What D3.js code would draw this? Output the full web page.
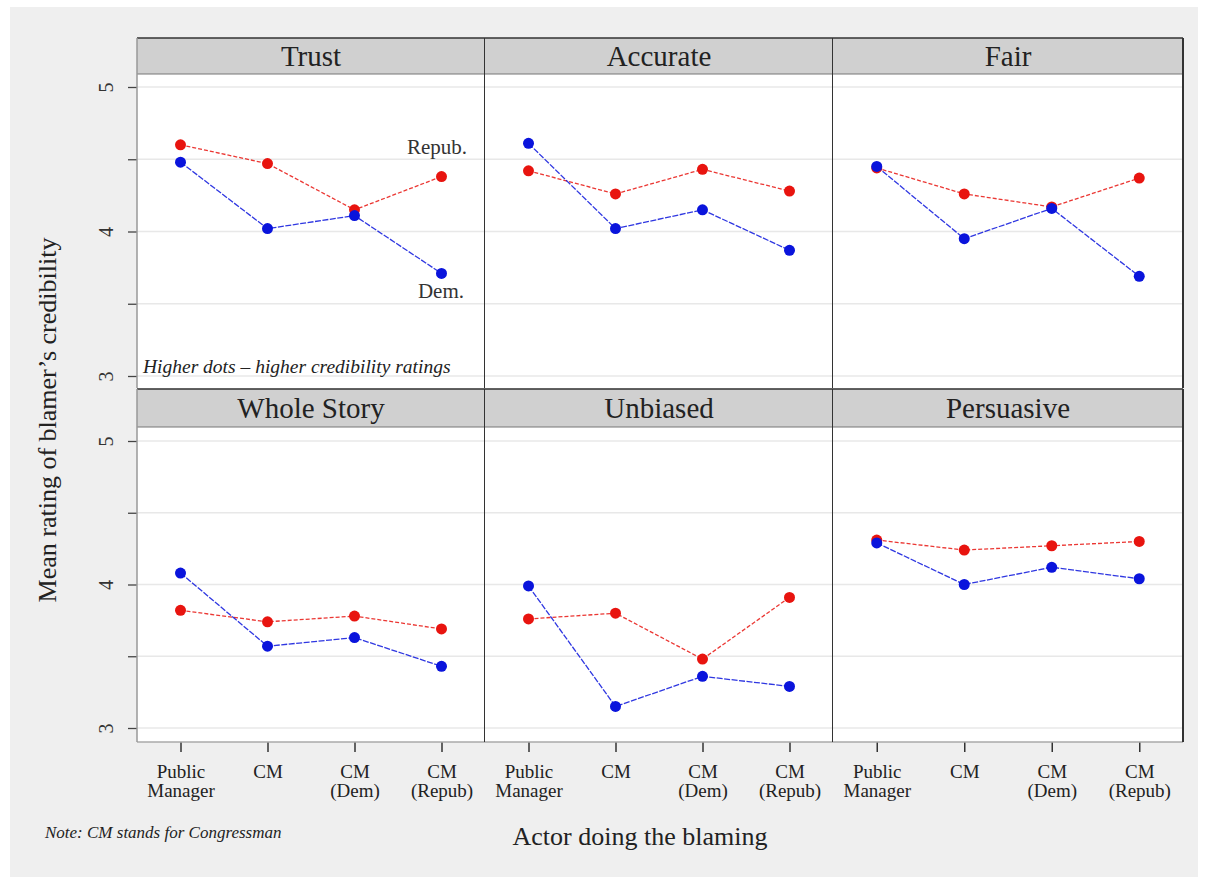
<!DOCTYPE html>
<html>
<head>
<meta charset="utf-8">
<script src="https://cdn.jsdelivr.net/npm/d3@7"></script>
<style>
  html, body { margin: 0; padding: 0; background: #ffffff; }
  svg { display: block; }
</style>
</head>
<body>
<svg id="chart" width="1208" height="877"></svg>
<script>
// ---- data ----
const categories = ["Public\nManager", "CM", "CM\n(Dem)", "CM\n(Repub)"];
const panels = ["Trust", "Accurate", "Fair", "Whole Story", "Unbiased", "Persuasive"];
const yTicks = [3, 3.5, 4, 4.5, 5];
const yTickLabels = ["3", "", "4", "", "5"];
// Republican respondents (red)
const repubTrust      = [4.60, 4.47, 4.15, 4.38];
const repubAccurate   = [4.42, 4.26, 4.43, 4.28];
const repubFair       = [4.44, 4.26, 4.17, 4.37];
const repubWhole      = [3.82, 3.74, 3.78, 3.69];
const repubUnbiased   = [3.76, 3.80, 3.48, 3.91];
const repubPersuasive = [4.31, 4.24, 4.27, 4.30];
// Democratic respondents (blue)
const demTrust        = [4.48, 4.02, 4.11, 3.71];
const demAccurate     = [4.61, 4.02, 4.15, 3.87];
const demFair         = [4.45, 3.95, 4.16, 3.69];
const demWhole        = [4.08, 3.57, 3.63, 3.43];
const demUnbiased     = [3.99, 3.15, 3.36, 3.29];
const demPersuasive   = [4.29, 4.00, 4.12, 4.04];

const repubSeries = [repubTrust, repubAccurate, repubFair, repubWhole, repubUnbiased, repubPersuasive];
const demSeries   = [demTrust, demAccurate, demFair, demWhole, demUnbiased, demPersuasive];

// ---- layout ----
const svg = d3.select("#chart");
const serif = "'Liberation Serif', 'DejaVu Serif', serif";
svg.append("rect").attr("x", 10).attr("y", 7).attr("width", 1188).attr("height", 870).attr("fill", "#efefef");

const colX = [137, 485, 833, 1183];
const rows = [
  { headTop: 38, headBot: 74, plotBot: 388, y: d3.scaleLinear().domain([3, 5]).range([376, 87]) },
  { headTop: 389, headBot: 427, plotBot: 742, y: d3.scaleLinear().domain([3, 5]).range([728, 441]) }
];
const RED = "#e8140f", BLUE = "#0a14dc";

panels.forEach((name, i) => {
  const r = rows[Math.floor(i / 3)];
  const c = i % 3;
  const x0 = colX[c], x1 = colX[c + 1];
  const g = svg.append("g");
  const x = d3.scalePoint().domain(d3.range(categories.length)).range([x0, x1]).padding(0.5);
  const y = r.y;

  // plot background
  g.append("rect").attr("x", x0).attr("y", r.headBot).attr("width", x1 - x0).attr("height", r.plotBot - r.headBot).attr("fill", "#ffffff");
  // gridlines
  g.selectAll("line.grid").data(yTicks).join("line")
    .attr("x1", x0).attr("x2", x1).attr("y1", d => y(d)).attr("y2", d => y(d))
    .attr("stroke", "#e8e8e8").attr("stroke-width", 1.5);
  // header strip
  g.append("rect").attr("x", x0).attr("y", r.headTop).attr("width", x1 - x0).attr("height", r.headBot - r.headTop)
    .attr("fill", "#d0d0d0");
  g.append("line").attr("x1", x0).attr("x2", x1).attr("y1", r.headTop).attr("y2", r.headTop).attr("stroke", "#333").attr("stroke-width", 1.5);
  g.append("line").attr("x1", x0).attr("x2", x1).attr("y1", r.headBot).attr("y2", r.headBot).attr("stroke", "#777").attr("stroke-width", 1.2);
  g.append("text").attr("x", (x0 + x1) / 2).attr("y", (r.headTop + r.headBot) / 2 + 10)
    .attr("text-anchor", "middle").attr("font-family", serif).attr("font-size", 29).attr("fill", "#222").text(name);

  // lines and dots
  const line = d3.line().x((d, k) => x(k)).y(d => y(d));
  [[repubSeries[i], RED, "4,2"], [demSeries[i], BLUE, "6,1.5"]].forEach(([vals, col, dash]) => {
    g.append("path").attr("d", line(vals)).attr("fill", "none").attr("stroke", col)
      .attr("stroke-width", 1.3).attr("stroke-dasharray", dash).attr("opacity", 0.85);
    g.selectAll(null).data(vals).join("circle")
      .attr("cx", (d, k) => x(k)).attr("cy", d => y(d)).attr("r", 5.5).attr("fill", col);
  });

  // bottom x axis for lower row
  if (i >= 3) {
    const ax = g.append("g").attr("transform", `translate(0,${r.plotBot})`)
      .call(d3.axisBottom(x).tickSize(10).tickFormat(""));
    ax.select(".domain").remove();
    ax.selectAll(".tick line").attr("stroke", "#333").attr("stroke-width", 1.5);
    ax.selectAll(".tick").each(function (k) {
      const lines = categories[k].split("\n");
      const t = d3.select(this).append("text").attr("text-anchor", "middle")
        .attr("font-family", serif).attr("font-size", 19).attr("fill", "#222");
      lines.forEach((s, li) => {
        t.append("tspan").attr("x", 0).attr("y", 36 + li * 19).text(s);
      });
    });
    g.append("line").attr("x1", x0).attr("x2", x1).attr("y1", r.plotBot).attr("y2", r.plotBot).attr("stroke", "#aaa").attr("stroke-width", 1.5);
  }

  // left y axis
  if (c === 0) {
    const ay = g.append("g").attr("transform", `translate(${x0},0)`)
      .call(d3.axisLeft(y).tickValues(yTicks).tickSize(9).tickFormat((d, k) => yTickLabels[k]));
    ay.select(".domain").remove();
    ay.selectAll(".tick line").attr("stroke", "#444").attr("stroke-width", 1.3);
    ay.selectAll(".tick text").attr("font-family", serif).attr("font-size", 20).attr("fill", "#333")
      .attr("transform", "rotate(-90)").attr("text-anchor", "middle").attr("x", 0).attr("y", -31).attr("dy", "0.35em");
    g.append("line").attr("x1", x0).attr("x2", x0).attr("y1", r.headTop).attr("y2", r.plotBot).attr("stroke", "#999").attr("stroke-width", 1.5);
  }
  // right / divider border
  g.append("line").attr("x1", x1).attr("x2", x1).attr("y1", r.headTop).attr("y2", r.plotBot).attr("stroke", "#333").attr("stroke-width", 2);
});

// annotations
svg.append("text").attr("x", 437).attr("y", 154).attr("text-anchor", "middle").attr("font-family", serif)
  .attr("font-size", 21).attr("fill", "#333").text("Repub.");
svg.append("text").attr("x", 441).attr("y", 298).attr("text-anchor", "middle").attr("font-family", serif)
  .attr("font-size", 21).attr("fill", "#333").text("Dem.");
svg.append("text").attr("x", 143).attr("y", 373).attr("font-family", serif).attr("font-style", "italic")
  .attr("font-size", 19.5).attr("fill", "#222").text("Higher dots – higher credibility ratings");

// axis titles
svg.append("text").attr("transform", "translate(56,420) rotate(-90)").attr("text-anchor", "middle")
  .attr("font-family", serif).attr("font-size", 26).attr("fill", "#222").text("Mean rating of blamer’s credibility");
svg.append("text").attr("x", 640).attr("y", 845).attr("text-anchor", "middle")
  .attr("font-family", serif).attr("font-size", 26).attr("fill", "#222").text("Actor doing the blaming");
svg.append("text").attr("x", 45).attr("y", 838).attr("font-family", serif).attr("font-style", "italic")
  .attr("font-size", 17).attr("fill", "#222").text("Note: CM stands for Congressman");
</script>
</body>
</html>
